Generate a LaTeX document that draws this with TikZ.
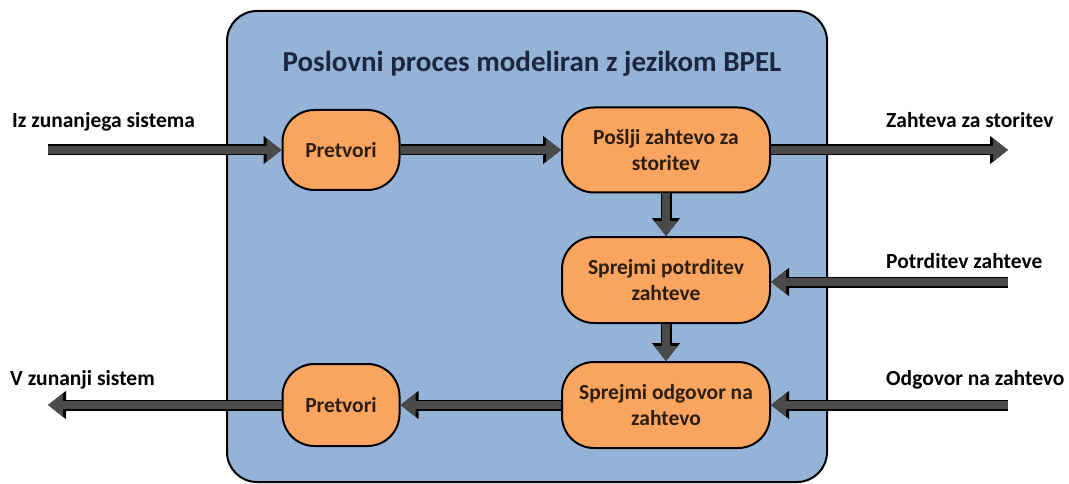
\documentclass[tikz,border=0pt]{standalone}
\usepackage{fontspec}
\setmainfont{Carlito}
\usetikzlibrary{arrows.meta}
\definecolor{bpel}{HTML}{95B3D7}
\definecolor{procfill}{HTML}{F9A560}
\definecolor{proctext}{HTML}{2D1E10}
\definecolor{arrowgray}{HTML}{4A4A4A}
\definecolor{titlecol}{HTML}{1C2640}
\begin{document}
\begin{tikzpicture}[x=1pt,y=-1pt,
  proc/.style={draw=black, line width=2pt, fill=procfill, rounded corners=32pt, align=center,
    font=\bfseries\fontsize{21.5}{26}\selectfont, text=proctext, inner sep=0pt},
  flow/.style={line width=8pt, draw=arrowgray, -{Triangle[width=22pt,length=15pt]},
    preaction={draw=black, line width=11pt, -{Triangle[width=27pt,length=18pt]}}},
  lab/.style={font=\bfseries\fontsize{21.5}{26}\selectfont, text=black, anchor=base west, inner sep=0pt}]
\useasboundingbox (0,0) rectangle (1069,484);
\fill[white] (0,0) rectangle (1069,484);
\node[draw=black, line width=2pt, fill=bpel, rounded corners=30pt, minimum width=600pt, minimum height=471pt] (bpel) at (527,246.5) {};
\node[font=\bfseries\fontsize{29}{34}\selectfont, text=titlecol, anchor=base] (title) at (532,72) {Poslovni proces modeliran z jezikom BPEL};
\node[proc, minimum width=117pt, minimum height=80pt] (p1) at (341,150) {Pretvori};
\node[proc, minimum width=208pt, minimum height=85pt] (send) at (666,150) {Pošlji zahtevo za\\storitev};
\node[proc, minimum width=208pt, minimum height=86pt] (conf) at (666,280) {Sprejmi potrditev\\zahteve};
\node[proc, minimum width=208pt, minimum height=86pt] (resp) at (666,405) {Sprejmi odgovor na\\zahtevo};
\node[proc, minimum width=117pt, minimum height=82pt] (p2) at (341,405) {Pretvori};
\coordinate (inA) at (48,150);
\coordinate (outA) at (1008,150);
\coordinate (inB) at (1008,282);
\coordinate (inC) at (1008,405);
\coordinate (outC) at (48,405);
\draw[flow] (inA) -- (p1);
\draw[flow] (p1) -- (send);
\draw[flow] (send) -- (outA);
\draw[flow] (send) -- (conf);
\draw[flow] (inB) -- (inB -| conf.east);
\draw[flow] (conf) -- (resp);
\draw[flow] (inC) -- (resp);
\draw[flow] (resp) -- (p2);
\draw[flow] (p2) -- (outC);
\node[lab] (l1) at (12,128) {Iz zunanjega sistema};
\node[lab] (l2) at (886,128) {Zahteva za storitev};
\node[lab] (l3) at (886,268) {Potrditev zahteve};
\node[lab] (l4) at (886,385) {Odgovor na zahtevo};
\node[lab] (l5) at (10,385) {V zunanji sistem};
\end{tikzpicture}
\end{document}
